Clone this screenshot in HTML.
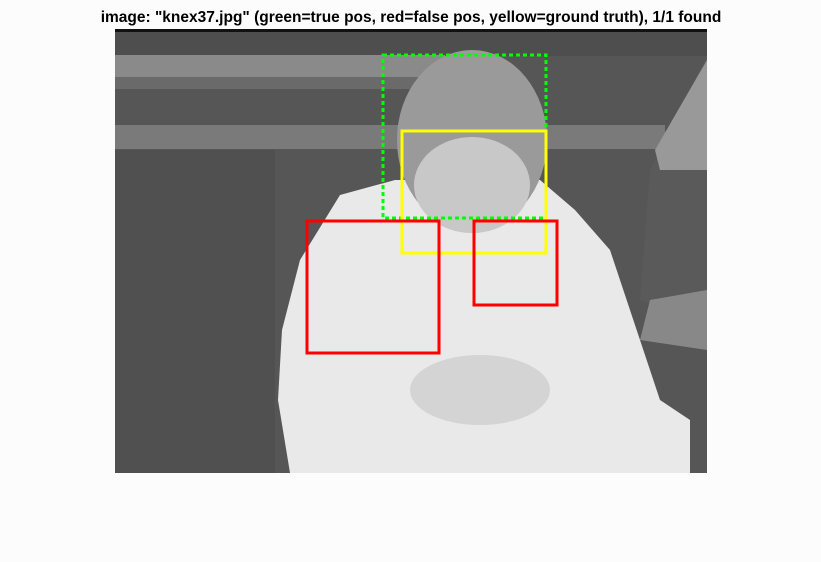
<!DOCTYPE html>
<html><head><meta charset="utf-8"><style>
body{margin:0;background:#fcfcfc;width:821px;height:557px;overflow:hidden;font-family:"Liberation Sans",sans-serif}
</style></head><body>
<svg width="821" height="557">
<text x="411" y="22" text-anchor="middle" font-family="Liberation Sans, sans-serif" font-weight="bold" font-size="15.5" fill="#000">image: "knex37.jpg" (green=true pos, red=false pos, yellow=ground truth), 1/1 found</text>
<g>
<rect x="115" y="30" width="592" height="443" fill="#565656"/>
<rect x="115" y="29" width="592" height="3" fill="#111"/>
<rect x="115" y="32" width="592" height="24" fill="#4e4e4e"/>
<rect x="115" y="55" width="330" height="22" fill="#8a8a8a"/>
<rect x="115" y="77" width="320" height="12" fill="#6a6a6a"/>
<rect x="115" y="125" width="550" height="24" fill="#7a7a7a"/>
<rect x="115" y="150" width="160" height="323" fill="#505050"/>
<polygon points="650,170 707,55 707,320 640,300" fill="#5a5a5a"/>
<polygon points="655,150 707,60 707,170 660,170" fill="#999"/>
<polygon points="650,300 707,290 707,350 640,340" fill="#888"/>
<polygon points="340,195 395,180 540,180 575,210 610,250 640,340 660,400 690,420 690,473 290,473 278,400 282,330 300,260" fill="#e9e9e9"/>
<ellipse cx="472" cy="140" rx="75" ry="90" fill="#9a9a9a"/>
<ellipse cx="472" cy="185" rx="58" ry="48" fill="#c8c8c8"/>
<ellipse cx="480" cy="390" rx="70" ry="35" fill="#d4d4d4"/>
</g>
<g id="boxes"></g>
</svg>
<script>
const boxX=[383,402,307,474];
const boxY=[55,131,221,221];
const boxW=[163,144,132,83];
const boxH=[163,122,132,84];
const boxKind=['true-pos','ground-truth','false-pos','false-pos'];
const colors={'true-pos':'#00ff00','ground-truth':'#ffff00','false-pos':'#ff0000'};
const g=document.getElementById('boxes');
for(let i=0;i<boxX.length;i++){
  const r=document.createElementNS('http://www.w3.org/2000/svg','rect');
  r.setAttribute('x',boxX[i]);r.setAttribute('y',boxY[i]);
  r.setAttribute('width',boxW[i]);r.setAttribute('height',boxH[i]);
  r.setAttribute('fill','none');r.setAttribute('stroke',colors[boxKind[i]]);
  r.setAttribute('stroke-width','3');
  if(boxKind[i]==='true-pos')r.setAttribute('stroke-dasharray','4 3');
  
  
  g.appendChild(r);
}
</script>
</body></html>
